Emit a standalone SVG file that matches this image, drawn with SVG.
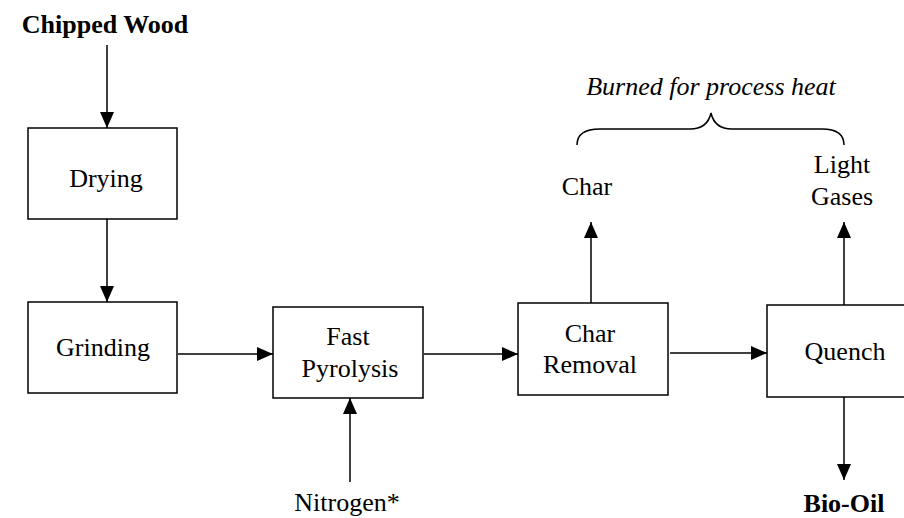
<svg xmlns="http://www.w3.org/2000/svg" width="904" height="518" viewBox="0 0 904 518">
<style>
.box{fill:#fff;stroke:#000;stroke-width:1.5}
.t{font-family:"Liberation Serif","Times New Roman",serif;font-size:26px;fill:#000;text-anchor:middle}
.b{font-weight:bold}
.i{font-style:italic}
.c{stroke:#000;stroke-width:1.5;fill:none}
</style>
<defs>
<marker id="ah" markerUnits="userSpaceOnUse" markerWidth="16" markerHeight="14" refX="16" refY="7" orient="auto">
<path d="M0,0 L16,7 L0,14 z" fill="#000"/>
</marker>
</defs>
<rect width="904" height="518" fill="#fff"/>
<g id="chipped-wood"><text class="t b" x="105" y="33">Chipped Wood</text></g>
<g id="drying"><rect class="box" x="28" y="128" width="149" height="91"/><text class="t" x="106" y="187">Drying</text></g>
<g id="grinding"><rect class="box" x="28" y="302" width="149" height="91"/><text class="t" x="103" y="356">Grinding</text></g>
<g id="fast-pyrolysis"><rect class="box" x="273" y="307" width="150" height="91"/><text class="t" x="348" y="345">Fast</text><text class="t" x="350" y="377">Pyrolysis</text></g>
<g id="char-removal"><rect class="box" x="518" y="303" width="150" height="92"/><text class="t" x="590" y="342">Char</text><text class="t" x="590" y="373">Removal</text></g>
<g id="quench"><rect class="box" x="767" y="305" width="150" height="92"/><text class="t" x="845" y="360">Quench</text></g>
<g id="char"><text class="t" x="587" y="195">Char</text></g>
<g id="light-gases"><text class="t" x="842" y="173">Light</text><text class="t" x="842" y="205">Gases</text></g>
<g id="nitrogen"><text class="t" x="347" y="511">Nitrogen*</text></g>
<g id="bio-oil"><text class="t b" x="844" y="512">Bio-Oil</text></g>
<g id="burned-label"><text class="t i" x="711" y="95">Burned for process heat</text>
<path class="c" d="M577,145 C577,135 584,129 600,129 L690,129 C703,129 709,122 711,113 C713,122 719,129 732,129 L822,129 C838,129 844,135 844,145"/></g>
<g id="connectors">
<line class="c" x1="107" y1="45" x2="107" y2="128" marker-end="url(#ah)"/>
<line class="c" x1="107" y1="219" x2="107" y2="302" marker-end="url(#ah)"/>
<line class="c" x1="178" y1="354" x2="273" y2="354" marker-end="url(#ah)"/>
<line class="c" x1="350" y1="482" x2="350" y2="398" marker-end="url(#ah)"/>
<line class="c" x1="424" y1="354" x2="518" y2="354" marker-end="url(#ah)"/>
<line class="c" x1="670" y1="353" x2="767" y2="353" marker-end="url(#ah)"/>
<line class="c" x1="591" y1="303" x2="591" y2="222" marker-end="url(#ah)"/>
<line class="c" x1="844" y1="305" x2="844" y2="222" marker-end="url(#ah)"/>
<line class="c" x1="844" y1="397" x2="844" y2="480" marker-end="url(#ah)"/>
</g>
</svg>
